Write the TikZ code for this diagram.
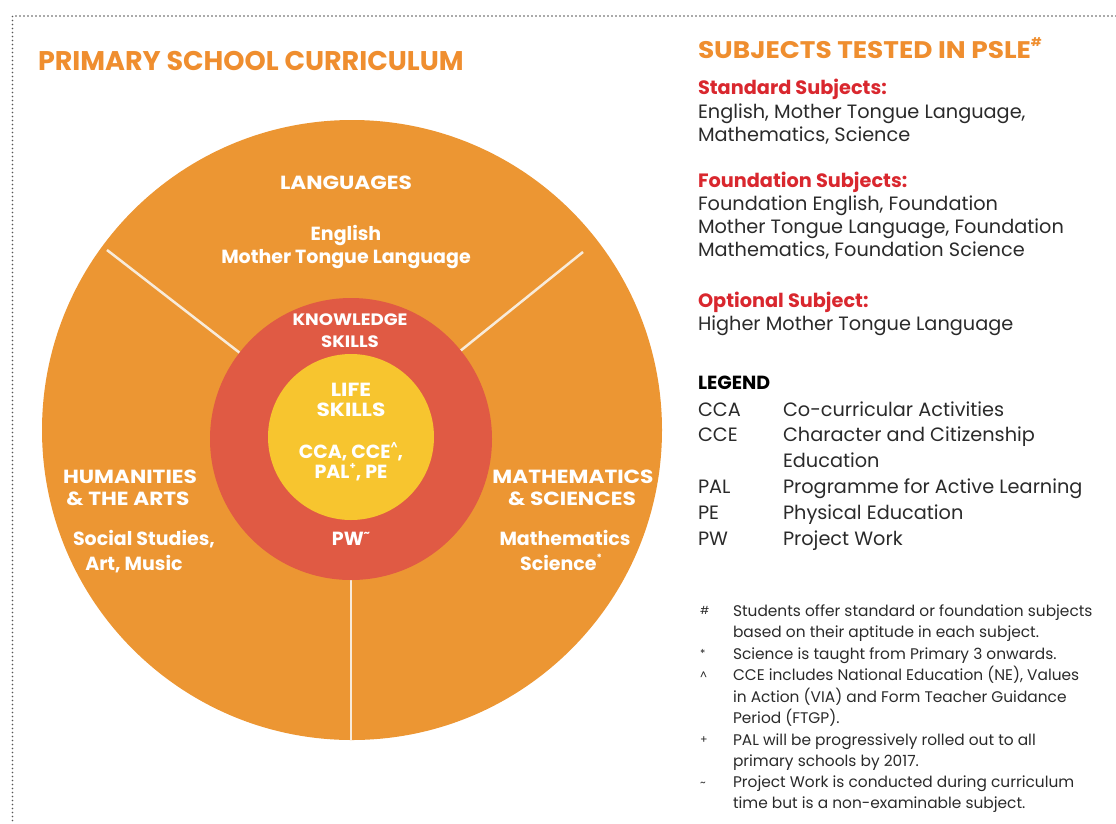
\documentclass[tikz,border=0pt]{standalone}
\usepackage{graphicx}
\usepackage{fontspec}
\setmainfont{Poppins}
\definecolor{ringorange}{HTML}{EC9633}
\definecolor{ringred}{HTML}{E05A44}
\definecolor{ringyellow}{HTML}{F7C52F}
\definecolor{headorange}{HTML}{EF8E2F}
\definecolor{subred}{HTML}{D9272E}
\definecolor{bodygray}{HTML}{2A2A2A}
\definecolor{dotgray}{HTML}{555555}
\definecolor{divider}{HTML}{F8EBDA}
\newcommand{\wcaps}[1]{\scalebox{1.14}[1]{#1}}
\newcommand{\wcapsb}[1]{\scalebox{1.1}[1]{#1}}
\newcommand{\tinysup}[1]{\raisebox{0.45em}{\fontsize{10}{10}\selectfont #1}}
\tikzset{
  txt/.style={inner sep=0pt, outer sep=0pt},
  title/.style={txt, anchor=base west, text=headorange, font=\fontsize{27}{30}\selectfont\bfseries},
  subhead/.style={txt, anchor=base west, text=subred, font=\fontsize{19.3}{22}\selectfont\bfseries},
  bodytxt/.style={txt, anchor=base west, text=bodygray, font=\fontsize{19.3}{22}\selectfont},
  legendhead/.style={txt, anchor=base west, text=black, font=\fontsize{19}{22}\selectfont\bfseries},
  notetxt/.style={txt, anchor=base west, text=bodygray, font=\fontsize{15.4}{18}\selectfont},
  notesym/.style={txt, anchor=base west, text=bodygray, font=\fontsize{11}{12}\selectfont},
  ringhead/.style={txt, anchor=base, text=white, font=\fontsize{19}{22}\selectfont\bfseries},
  ringsmall/.style={txt, anchor=base, text=white, font=\fontsize{16.5}{20}\selectfont\bfseries},
  dividerline/.style={draw=divider, line width=2.5pt},
  dotborder/.style={draw=dotgray, line width=1.8pt, line cap=round, dash pattern=on 0pt off 4pt}
}
\begin{document}
\begin{tikzpicture}[x=1pt,y=-1pt]
\useasboundingbox (0,0) rectangle (1116,823);
% dotted border
\coordinate (bTR) at (1116,16);
\coordinate (bTL) at (12.5,16);
\coordinate (bBL) at (12.5,823);
\draw[dotborder] (bTR) -- (bTL) -- (bBL);

% circles
\coordinate (cBig) at (352,430);
\coordinate (cMid) at (351,439);
\coordinate (cIn) at (351,437);
\fill[ringorange] (cBig) circle (310pt);
\coordinate (dUL) at (107,250);
\coordinate (dUR) at (583,252);
\coordinate (dB) at (351,740);
\draw[dividerline] (cMid) -- (dUL);
\draw[dividerline] (cMid) -- (dUR);
\draw[dividerline] (cMid) -- (dB);
\fill[ringred] (cMid) circle (141pt);
\fill[ringyellow] (cIn) circle (83pt);

% ring texts
\node[ringhead] (lang) at (346,189) {\wcaps{LANGUAGES}};
\node[ringhead] (langA) at (346,240) {English};
\node[ringhead] (langB) at (346,263) {Mother Tongue Language};
\node[ringsmall] (knowA) at (350,325) {\wcapsb{KNOWLEDGE}};
\node[ringsmall] (knowB) at (350,347) {\wcapsb{SKILLS}};
\node[ringhead] (lifeA) at (351,396) {\wcaps{LIFE}};
\node[ringhead] (lifeB) at (351,416) {\wcaps{SKILLS}};
\node[ringhead] (lifeC) at (351,458) {CCA, CCE\tinysup{\^{}},};
\node[ringhead] (lifeD) at (351,478) {PAL\tinysup{+}, PE};
\node[ringhead] (pw) at (351,545) {PW\tinysup{\textasciitilde}};
\node[ringhead] (humA) at (130,483) {\wcaps{HUMANITIES}};
\node[ringhead] (humB) at (128,505) {\wcaps{\&~THE ARTS}};
\node[ringhead] (humC) at (144,545) {Social Studies,};
\node[ringhead] (humD) at (134,570) {Art, Music};
\node[ringhead] (matA) at (573,483) {\wcaps{MATHEMATICS}};
\node[ringhead] (matB) at (572,505) {\wcaps{\&~SCIENCES}};
\node[ringhead] (matC) at (565,545) {Mathematics};
\node[ringhead] (matD) at (561,570) {Science\tinysup{*}};

% titles
\node[title] (t1) at (38,70) {PRIMARY SCHOOL CURRICULUM};
\node[title, font=\fontsize{24}{26}\selectfont\bfseries] (t2) at (698,58) {\scalebox{1.1}[1]{SUBJECTS TESTED IN PSLE}\raisebox{0.5em}{\fontsize{12}{12}\selectfont\#}};

% subjects
\node[subhead] (std) at (698,94) {Standard Subjects:};
\node[bodytxt] (std1) at (698,118) {English, Mother Tongue Language,};
\node[bodytxt] (std2) at (698,141) {Mathematics, Science};
\node[subhead] (fnd) at (698,187) {Foundation Subjects:};
\node[bodytxt] (fnd1) at (698,210) {Foundation English, Foundation};
\node[bodytxt] (fnd2) at (698,233) {Mother Tongue Language, Foundation};
\node[bodytxt] (fnd3) at (698,256) {Mathematics, Foundation Science};
\node[subhead] (opt) at (698,307) {Optional Subject:};
\node[bodytxt] (opt1) at (698,330) {Higher Mother Tongue Language};

% legend
\node[legendhead] (leg) at (698,389) {LEGEND};
\node[bodytxt] (lgA) at (698,416) {CCA};
\node[bodytxt] (lgAd) at (783,416) {Co-curricular Activities};
\node[bodytxt] (lgB) at (698,441) {CCE};
\node[bodytxt] (lgBd) at (783,441) {Character and Citizenship};
\node[bodytxt] (lgBe) at (783,467) {Education};
\node[bodytxt] (lgC) at (698,493) {PAL};
\node[bodytxt] (lgCd) at (783,493) {Programme for Active Learning};
\node[bodytxt] (lgD) at (698,519) {PE};
\node[bodytxt] (lgDd) at (783,519) {Physical Education};
\node[bodytxt] (lgE) at (698,545) {PW};
\node[bodytxt] (lgEd) at (783,545) {Project Work};

% footnotes
\node[notesym] (n1s) at (700,614) {\#};
\node[notetxt] (n1a) at (733,616) {Students offer standard or foundation subjects};
\node[notetxt] (n1b) at (733,637) {based on their aptitude in each subject.};
\node[notesym] (n2s) at (700,657) {*};
\node[notetxt] (n2a) at (733,659) {Science is taught from Primary 3 onwards.};
\node[notesym] (n3s) at (700,679) {\^{}};
\node[notetxt] (n3a) at (733,680) {CCE includes National Education (NE), Values};
\node[notetxt] (n3b) at (733,702) {in Action (VIA) and Form Teacher Guidance};
\node[notetxt] (n3c) at (733,723) {Period (FTGP).};
\node[notesym] (n4s) at (700,743) {+};
\node[notetxt] (n4a) at (733,745) {PAL will be progressively rolled out to all};
\node[notetxt] (n4b) at (733,766) {primary schools by 2017.};
\node[notesym] (n5s) at (700,786) {\textasciitilde};
\node[notetxt] (n5a) at (733,787) {Project Work is conducted during curriculum};
\node[notetxt] (n5b) at (733,808) {time but is a non-examinable subject.};
\end{tikzpicture}
\end{document}
